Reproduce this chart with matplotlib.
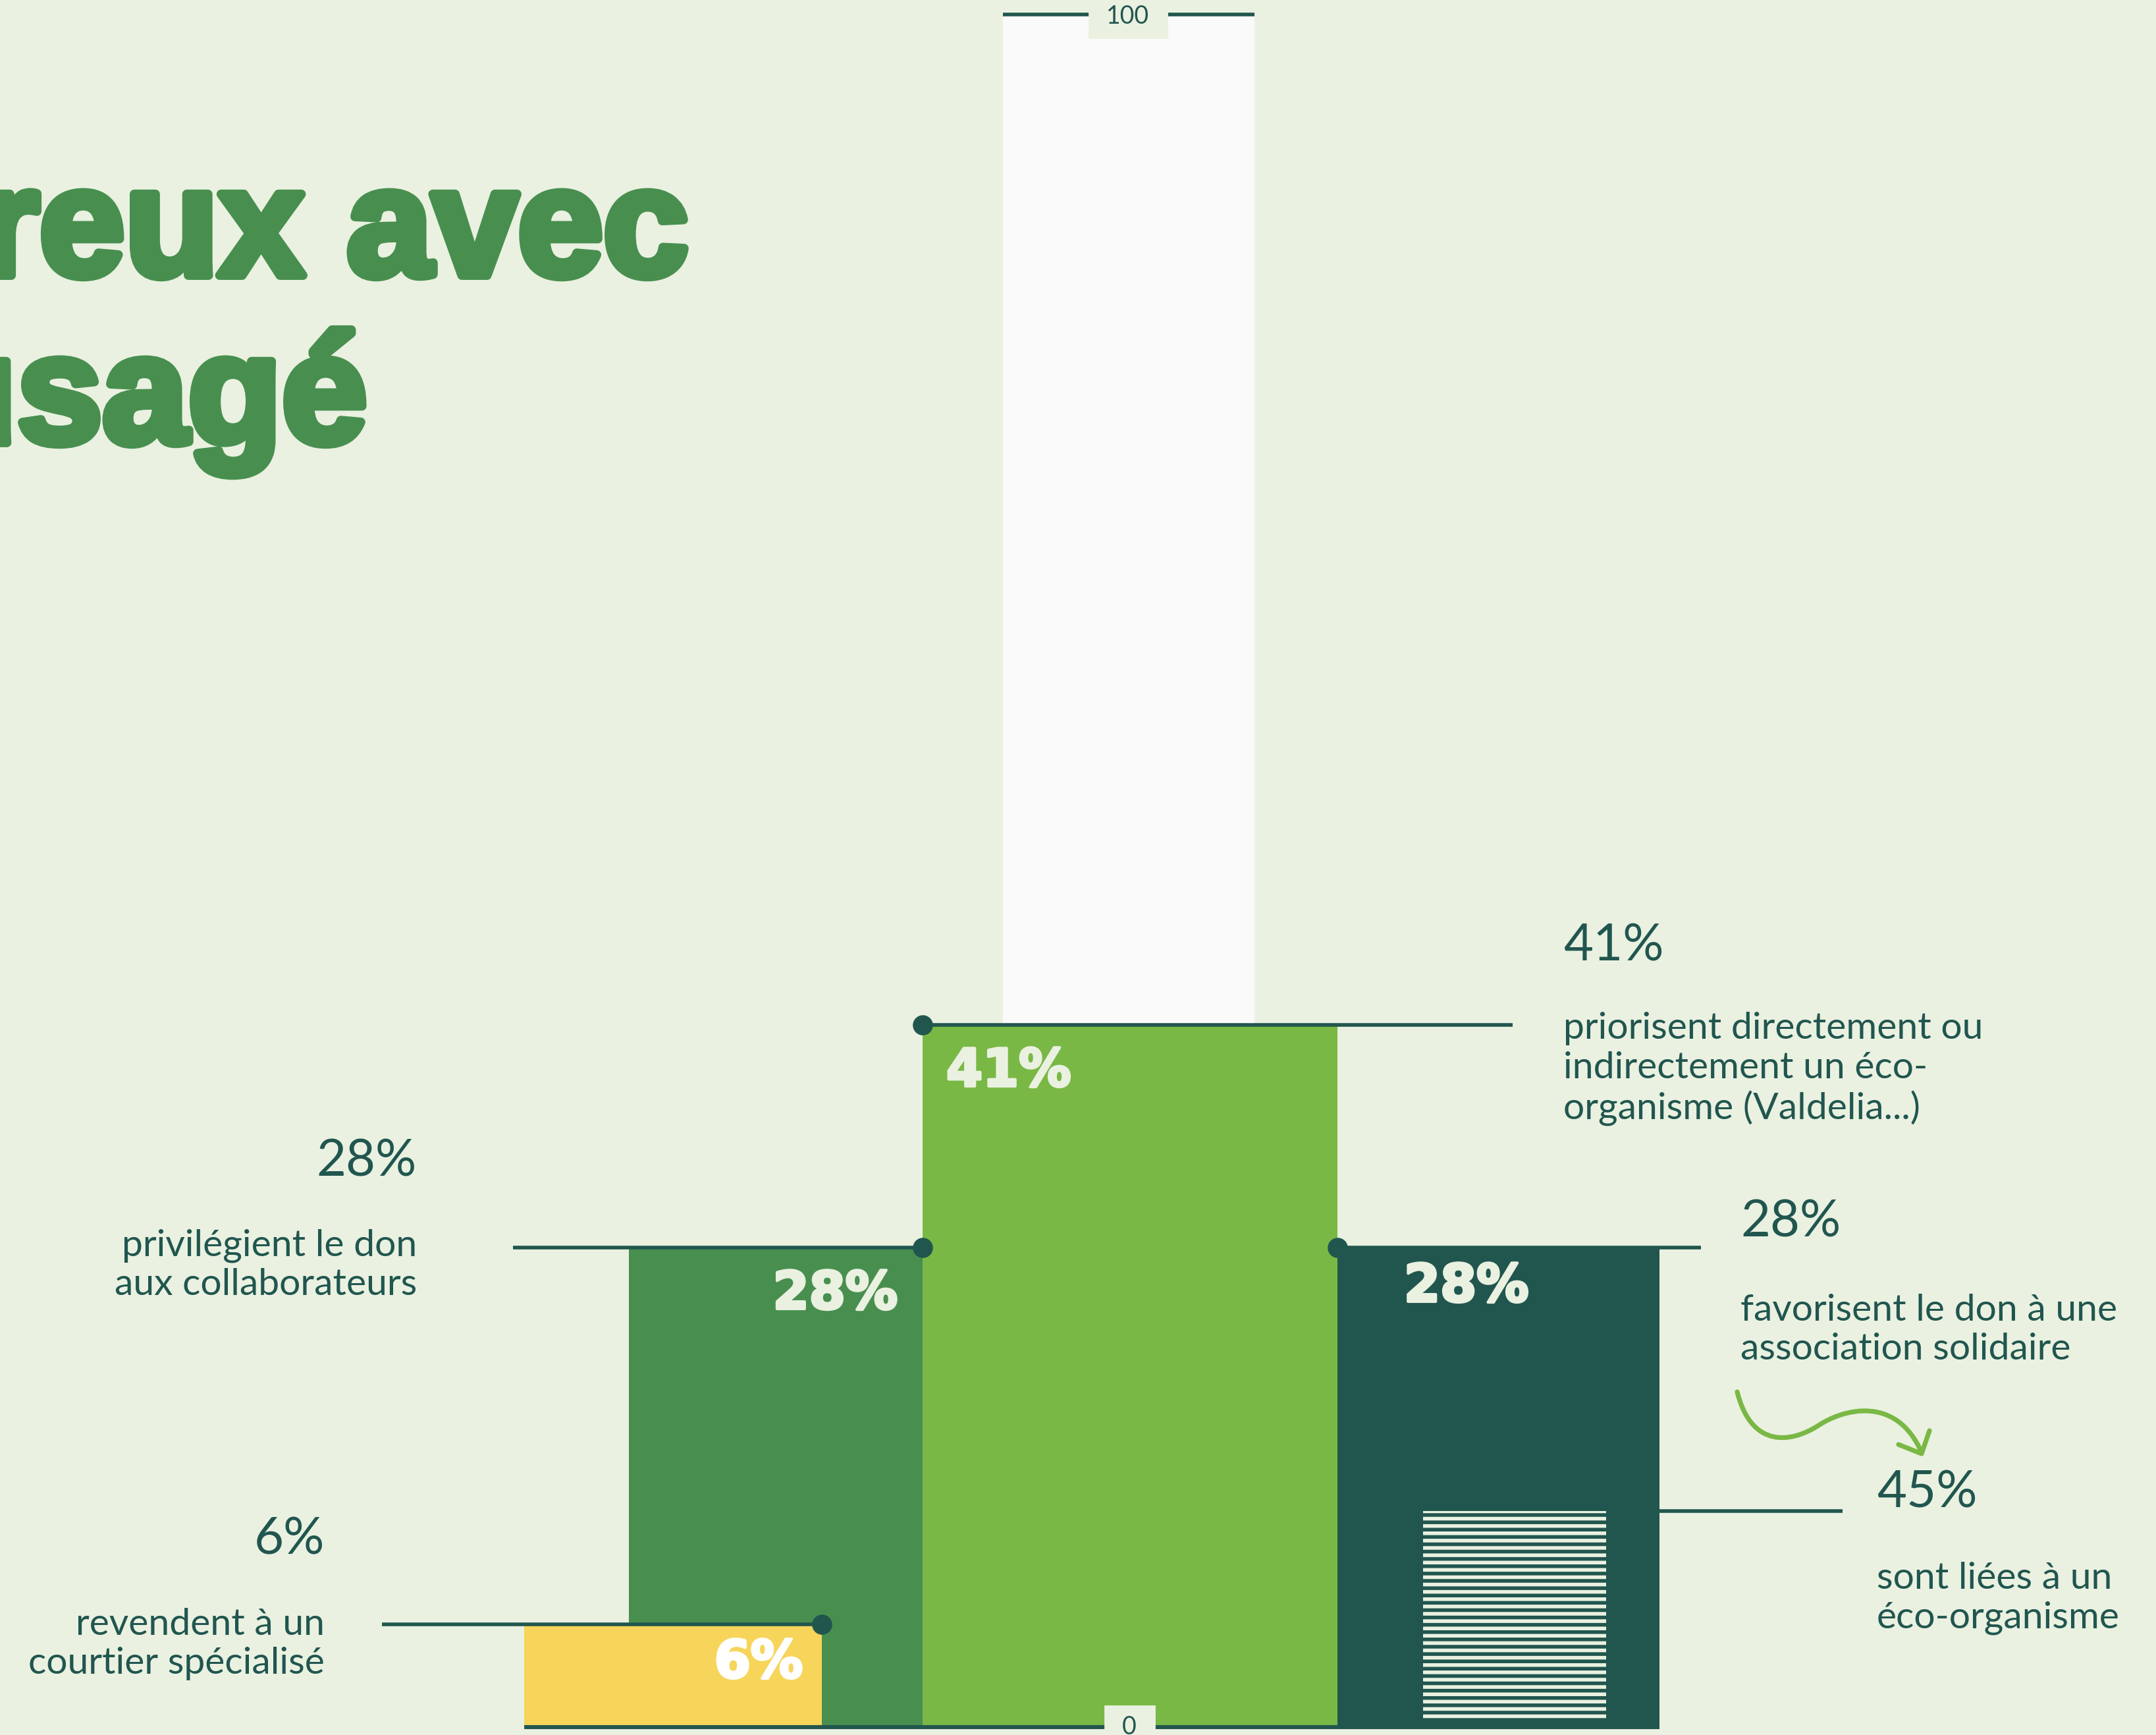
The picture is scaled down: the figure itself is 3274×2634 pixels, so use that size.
import matplotlib
matplotlib.use("Agg")
import matplotlib.pyplot as plt
import matplotlib.patheffects as pe
from matplotlib.path import Path
from matplotlib.patches import PathPatch, Rectangle

W, H, DPI = 3274, 2634, 200

BG = "#eaf1e1"
TEAL = "#21564f"
GREEN = "#488f4f"
LIGHT_GREEN = "#7ab845"
YELLOW = "#f6d55a"
WHITE_BAR = "#fafafa"

# data
shares = [6, 28, 41, 28]          # yellow, left green, center, right teal
total = 100
sub_share = 45                    # part of the "association" share linked to an eco-organism
share_labels = ["6%", "28%", "41%", "28%"]
descriptions = [
    "revendent à un\ncourtier spécialisé",
    "privilégient le don\naux collaborateurs",
    "priorisent directement ou\nindirectement un éco-\norganisme (Valdelia...)",
    "favorisent le don à une\nassociation solidaire",
]
sub_label = "45%"
sub_description = "sont liées à un\néco-organisme"

# layout (pixel x-ranges of the bars)
bar_x = [(796, 1248), (955, 1401), (1401, 2031), (2031, 2520)]
bar_colors = [YELLOW, GREEN, LIGHT_GREEN, TEAL]
total_x = (1523, 1905)
hatch_x = (2161, 2439)

plt.rcParams["hatch.linewidth"] = 2.0

fig = plt.figure(figsize=(W / DPI, H / DPI), dpi=DPI, facecolor=BG)
ax = fig.add_axes([0, 12 / H, 1, 2600 / H])
ax.set_xlim(0, W)
ax.set_ylim(0, total)
ax.axis("off")

ov = fig.add_axes([0, 0, 1, 1], zorder=5)
ov.set_xlim(0, W)
ov.set_ylim(H, 0)
ov.axis("off")
ov.patch.set_alpha(0)


def bar(xr, h, color, z, bottom=0, **kw):
    ax.bar((xr[0] + xr[1]) / 2, h, width=xr[1] - xr[0], bottom=bottom,
           color=color, linewidth=0, zorder=z, **kw)


# total bar (100) behind the 41% bar
bar(total_x, total, WHITE_BAR, 1)
bar(bar_x[2], shares[2], bar_colors[2], 2)
bar(bar_x[1], shares[1], bar_colors[1], 2)
bar(bar_x[3], shares[3], bar_colors[3], 2)
bar(bar_x[0], shares[0], bar_colors[0], 3)

# striped sub-part of the teal bar
sub_h = shares[3] * sub_share / 100
ax.bar((hatch_x[0] + hatch_x[1]) / 2, sub_h - 0.35, width=hatch_x[1] - hatch_x[0],
       bottom=0.35, facecolor=TEAL, edgecolor=BG, hatch="---", linewidth=0, zorder=3)

# leader lines + dots
lw = 2.0
leaders = [
    ((580, 1248), shares[0], 1248),
    ((779, 1401), shares[1], 1401),
    ((1401, 2297), shares[2], 1401),
    ((2031, 2583), shares[3], 2031),
]
for (x0, x1), v, dx in leaders:
    ax.plot([x0, x1], [v, v], color=TEAL, lw=lw, solid_capstyle="butt", zorder=6)
    ax.plot([dx], [v], "o", ms=10, color=TEAL, zorder=7)
ax.plot([2520, 2798], [sub_h, sub_h], color=TEAL, lw=lw, solid_capstyle="butt", zorder=6)
ax.plot([total_x[0], total_x[1]], [total, total], color=TEAL, lw=lw,
        solid_capstyle="butt", zorder=6, clip_on=False)
ax.plot([bar_x[0][0], bar_x[3][1]], [0, 0], color=TEAL, lw=2.2,
        solid_capstyle="butt", zorder=6, clip_on=False)

# inner value labels
inner_font = dict(family="DejaVu Sans", fontweight="bold", fontsize=28.5, zorder=8,
                  path_effects=[])
inner = [
    (1219, shares[0], -59, "right", "white"),
    (1363, shares[1], -71, "right", BG),
    (1437, shares[2], -71, "left", BG),
    (2132, shares[3], -60, "left", BG),
]
for (x, v, dy, ha, c), lab in zip(inner, share_labels):
    ax.annotate(lab, (x, v), xytext=(0, dy), textcoords="offset pixels",
                ha=ha, va="center", color=c,
                **{**inner_font, "path_effects": [pe.withStroke(linewidth=1.5, foreground=c)]})

# outer labels
big_font = dict(family="Lato", fontweight="normal", fontsize=28, color=TEAL)
body_font = dict(family="Lato", fontweight="normal", fontsize=20.5, color=TEAL,
                 linespacing=1.2)
outer = [
    (493, shares[0], 128, -30, "right"),
    (633, shares[1], 130, -27, "right"),
    (2374, shares[2], 119, -67, "left"),
    (2643, shares[3], 38, -125, "left"),
]
for (x, v, dy_big, dy_body, ha), lab, desc in zip(outer, share_labels, descriptions):
    ax.annotate(lab, (x, v), xytext=(0, dy_big), textcoords="offset pixels",
                ha=ha, va="center", annotation_clip=False, **big_font)
    ax.annotate(desc, (x, v), xytext=(0, dy_body), textcoords="offset pixels",
                ha=ha, va="center", multialignment=ha, annotation_clip=False, **body_font)
ax.annotate(sub_label, (2850, sub_h), xytext=(0, 27), textcoords="offset pixels",
            ha="left", va="center", annotation_clip=False, **big_font)
ax.annotate(sub_description, (2850, sub_h), xytext=(0, -132), textcoords="offset pixels",
            ha="left", va="center", annotation_clip=False, **body_font)

# axis end labels 100 / 0
ov.add_patch(Rectangle((1654, 0), 118, 57, color=BG, zorder=9))
ov.text(1713, 25, str(total), ha="center", va="center", fontsize=13.5,
        family="Lato", color=TEAL, zorder=10)
ov.add_patch(Rectangle((1678, 2590), 75, 50, color=BG, zorder=9))
ov.text(1715, 2604, "0", ha="center", va="top", fontsize=13.5,
        family="Lato", color=TEAL, zorder=10)

# title (cropped at the left edge)
title_kw = dict(family="Liberation Sans", fontweight="bold", fontsize=84, color=GREEN,
                ha="right", va="baseline",
                path_effects=[pe.withStroke(linewidth=5, foreground=GREEN)])
ov.text(1046, 418, "reux avec", **title_kw)
ov.text(558, 672, "usagé", **title_kw)

# curly arrow
verts = [(2638, 2113), (2660, 2200), (2720, 2190), (2760, 2165),
         (2800, 2138), (2880, 2118), (2918, 2205)]
codes = [Path.MOVETO] + [Path.CURVE4] * 6
ov.add_patch(PathPatch(Path(verts, codes), fill=False, edgecolor=LIGHT_GREEN,
                       lw=2.6, capstyle="round", zorder=10))
head = Path([(2883, 2193), (2918, 2207), (2930, 2172)],
            [Path.MOVETO, Path.LINETO, Path.LINETO])
ov.add_patch(PathPatch(head, fill=False, edgecolor=LIGHT_GREEN, lw=2.6,
                       capstyle="round", joinstyle="round", zorder=10))

fig.savefig("out.png", dpi=DPI, facecolor=BG)
